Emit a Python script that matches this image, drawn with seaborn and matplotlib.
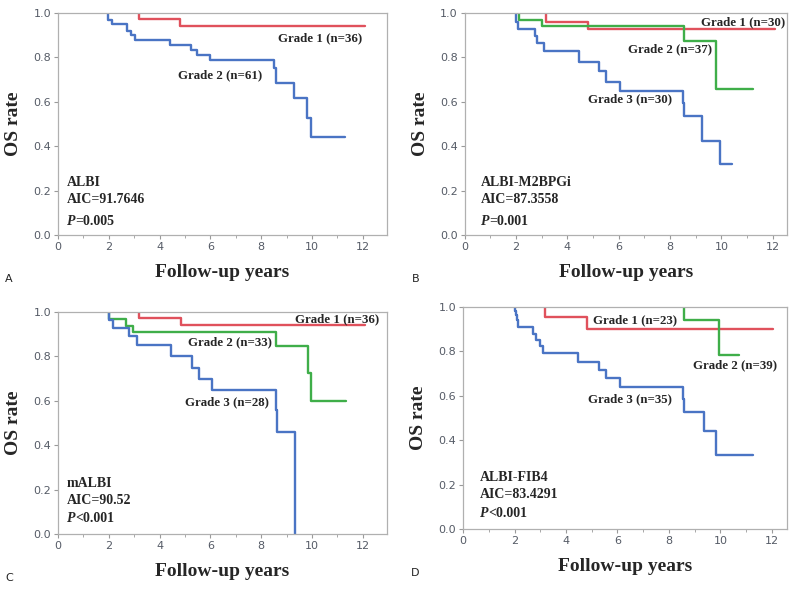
"""
Kaplan-Meier OS curves for the four liver-function grading systems (panels A-D).
"""
import matplotlib
matplotlib.use("Agg")
import matplotlib.pyplot as plt
from matplotlib.ticker import MultipleLocator
import pandas as pd
import seaborn as sns

# ---- data ----
# each curve: drop times, survival after each drop, end of follow-up
A_G1_T = [3.2, 4.8]
A_G1_S = [0.973, 0.94]
A_G1_END = 12.1
A_G2_T = [1.95, 2.13, 2.7, 2.86, 3.04, 4.41, 5.22, 5.48, 5.98, 8.52, 8.57, 9.3, 9.79, 9.96]
A_G2_S = [0.97, 0.95, 0.917, 0.90, 0.88, 0.857, 0.835, 0.81, 0.79, 0.75, 0.683, 0.616, 0.526, 0.44]
A_G2_END = 11.3

B_G1_T = [3.18, 4.8]
B_G1_S = [0.96, 0.93]
B_G1_END = 12.1
B_G2_T = [2.12, 2.99, 8.53, 9.78]
B_G2_S = [0.97, 0.943, 0.875, 0.658]
B_G2_END = 11.23
B_G3_T = [2.01, 2.08, 2.73, 2.82, 3.09, 4.44, 5.23, 5.49, 6.05, 8.5, 8.54, 9.26, 9.93]
B_G3_S = [0.96, 0.93, 0.895, 0.865, 0.827, 0.78, 0.74, 0.69, 0.65, 0.593, 0.535, 0.425, 0.318]
B_G3_END = 10.4

C_G1_T = [3.2, 4.83]
C_G1_S = [0.974, 0.94]
C_G1_END = 12.08
C_G2_T = [2.02, 2.68, 2.96, 8.58, 9.85, 9.98]
C_G2_S = [0.97, 0.937, 0.908, 0.845, 0.724, 0.60]
C_G2_END = 11.33
C_G3_T = [2.02, 2.15, 2.81, 3.1, 4.45, 5.27, 5.55, 6.08, 8.58, 8.61, 9.33]
C_G3_S = [0.964, 0.93, 0.89, 0.852, 0.80, 0.75, 0.70, 0.65, 0.56, 0.46, 0.0]
C_G3_END = 9.33

D_G1_T = [3.2, 4.83]
D_G1_S = [0.956, 0.90]
D_G1_END = 12.05
D_G2_T = [8.58, 9.96]
D_G2_S = [0.94, 0.784]
D_G2_END = 10.74
D_G3_T = [2.03, 2.07, 2.1, 2.14, 2.72, 2.83, 2.98, 3.11, 4.47, 5.28, 5.55, 6.08, 8.54, 8.58, 9.38, 9.85]
D_G3_S = [0.98, 0.964, 0.94, 0.911, 0.88, 0.851, 0.825, 0.795, 0.754, 0.717, 0.682, 0.64, 0.585, 0.525, 0.443, 0.332]
D_G3_END = 11.26

GRADE_COLORS = {"Grade 1": "#e0515c", "Grade 2": "#3fae49", "Grade 3": "#4a74c4"}
ABC_GRADE2_COLOR = {"A": "#4a74c4"}  # panel A has only two grades; grade 2 is drawn in blue

PANELS = {
    "A": {
        "curves": [("Grade 1", A_G1_T, A_G1_S, A_G1_END), ("Grade 2", A_G2_T, A_G2_S, A_G2_END)],
        "labels": [("Grade 1 (n=36)", 12.0, 0.887, "right"), ("Grade 2 (n=61)", 4.74, 0.718, "left")],
        "info": ["ALBI", "AIC=91.7646"], "p": "=0.005",
        "info_xy": (0.34, 0.237, 0.16, 0.062), "xmax": 12.95,
        "rect": [0.0725, 0.6024, 0.411, 0.3756],
    },
    "B": {
        "curves": [("Grade 1", B_G1_T, B_G1_S, B_G1_END), ("Grade 2", B_G2_T, B_G2_S, B_G2_END),
                   ("Grade 3", B_G3_T, B_G3_S, B_G3_END)],
        "labels": [("Grade 1 (n=30)", 12.5, 0.958, "right"), ("Grade 2 (n=37)", 6.37, 0.835, "left"),
                   ("Grade 3 (n=30)", 4.8, 0.61, "left")],
        "info": ["ALBI-M2BPGi", "AIC=87.3558"], "p": "=0.001",
        "info_xy": (0.64, 0.237, 0.16, 0.062), "xmax": 12.55,
        "rect": [0.581, 0.6024, 0.4025, 0.3756],
    },
    "C": {
        "curves": [("Grade 1", C_G1_T, C_G1_S, C_G1_END), ("Grade 2", C_G2_T, C_G2_S, C_G2_END),
                   ("Grade 3", C_G3_T, C_G3_S, C_G3_END)],
        "labels": [("Grade 1 (n=36)", 12.65, 0.967, "right"), ("Grade 2 (n=33)", 5.13, 0.865, "left"),
                   ("Grade 3 (n=28)", 5.0, 0.595, "left")],
        "info": ["mALBI", "AIC=90.52"], "p": "<0.001",
        "info_xy": (0.34, 0.227, 0.152, 0.072), "xmax": 12.95,
        "rect": [0.0725, 0.0964, 0.411, 0.3756],
    },
    "D": {
        "curves": [("Grade 1", D_G1_T, D_G1_S, D_G1_END), ("Grade 2", D_G2_T, D_G2_S, D_G2_END),
                   ("Grade 3", D_G3_T, D_G3_S, D_G3_END)],
        "labels": [("Grade 1 (n=23)", 5.03, 0.942, "left"), ("Grade 2 (n=39)", 8.95, 0.739, "left"),
                   ("Grade 3 (n=35)", 4.86, 0.586, "left")],
        "info": ["ALBI-FIB4", "AIC=83.4291"], "p": "<0.001",
        "info_xy": (0.65, 0.232, 0.154, 0.072), "xmax": 12.6,
        "rect": [0.579, 0.1049, 0.405, 0.3756],
    },
}

SERIF = "Liberation Serif"


def km_frame(curves):
    rows = []
    for grade, times, surv, end in curves:
        xs = [times[0]] + list(times) + [end]
        ys = [1.0] + list(surv) + [surv[-1]]
        rows += [{"time": x, "os": y, "grade": grade} for x, y in zip(xs, ys)]
    return pd.DataFrame(rows)


sns.set_theme(style="white")
plt.rcParams["font.family"] = ["DejaVu Sans"]

fig = plt.figure(figsize=(8, 5.91), dpi=100)

for letter, cfg in PANELS.items():
    ax = fig.add_axes(cfg["rect"])
    df = km_frame(cfg["curves"])
    palette = dict(GRADE_COLORS)
    if letter in ABC_GRADE2_COLOR:
        palette["Grade 2"] = ABC_GRADE2_COLOR[letter]
    sns.lineplot(data=df, x="time", y="os", hue="grade", palette=palette, estimator=None,
                 sort=False, drawstyle="steps-post", legend=False, linewidth=1.7, ax=ax)

    ax.set_xlim(0, cfg["xmax"])
    ax.set_ylim(0, 1.0)
    ax.xaxis.set_major_locator(MultipleLocator(2))
    ax.xaxis.set_minor_locator(MultipleLocator(1))
    ax.yaxis.set_major_locator(MultipleLocator(0.2))
    ax.yaxis.set_major_formatter(plt.FormatStrFormatter("%.1f"))
    ax.tick_params(which="major", direction="out", length=3, width=0.8, color="#9a9a9a",
                   labelsize=8, labelcolor="#555b66", bottom=True, left=True, pad=2)
    ax.tick_params(which="minor", direction="out", length=2, width=0.6, color="#9a9a9a", bottom=True)
    for sp in ax.spines.values():
        sp.set_color("#b0b0b0")
        sp.set_linewidth(0.9)

    ax.set_xlabel("Follow-up years", family=SERIF, fontweight="bold", fontsize=14, labelpad=9)
    ax.set_ylabel("OS rate", family=SERIF, fontweight="bold", fontsize=14, labelpad=8)

    for txt, x, y, ha in cfg["labels"]:
        ax.text(x, y, txt, ha=ha, va="center", family=SERIF, fontweight="bold", fontsize=9.3)

    ix, y1, y2, y3 = cfg["info_xy"]
    ax.text(ix, y1, cfg["info"][0], ha="left", va="center", family=SERIF, fontweight="bold", fontsize=10)
    ax.text(ix, y2, cfg["info"][1], ha="left", va="center", family=SERIF, fontweight="bold", fontsize=10)
    ptxt = ax.text(ix, y3, "P", ha="left", va="center", family=SERIF, fontweight="bold",
                   fontstyle="italic", fontsize=10)
    ax.annotate(cfg["p"], xy=(1, 0.5), xycoords=ptxt, ha="left", va="center", family=SERIF,
                fontweight="bold", fontsize=10)

    # panel letter, bottom-left next to the x label
    x0, y0 = cfg["rect"][0], cfg["rect"][1]
    fig.text(x0 - 0.066, y0 - 0.075, letter, ha="left", va="center", fontsize=8, color="#222222")

fig.savefig("out.png", dpi=100)
